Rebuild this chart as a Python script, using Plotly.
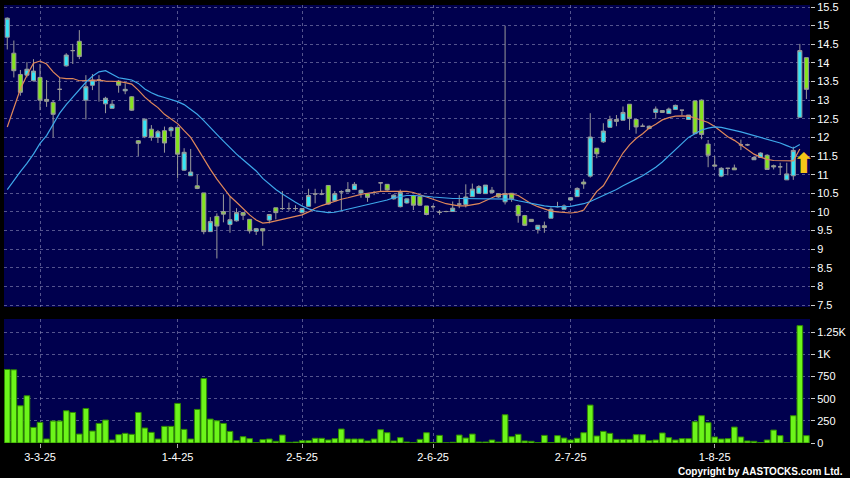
import pandas as pd
import plotly.graph_objects as go

# ---------------- data ----------------
holidays = ["2025-04-04", "2025-04-18", "2025-04-21", "2025-05-01", "2025-05-05", "2025-07-01"]
dates = [d.strftime("%Y-%m-%d") for d in pd.bdate_range("2025-02-24", "2025-08-21")
         if d.strftime("%Y-%m-%d") not in holidays]

opens = [14.69, 14.26, 13.69, 13.67, 13.52, 13.61, 13.02, 12.94, 13.29, 13.92,
         14.33, 14.58, 13.00, 13.40, 13.54, 12.90, 12.78, 13.51, 13.25, 13.09,
         11.91, 12.02, 12.22, 12.00, 12.18, 12.18, 12.27, 11.12, 10.97, 10.70,
         10.51, 9.47, 9.88, 10.01, 9.66, 9.76, 9.98, 9.80, 9.48, 9.55,
         9.78, 10.11, 10.09, 10.09, 10.09, 9.98, 10.15, 10.48, 10.48, 10.71,
         10.30, 10.54, 10.54, 10.60, 10.51, 10.49, 10.52, 10.78, 10.74, 10.35,
         10.14, 10.24, 10.44, 10.41, 10.16, 10.14, 9.99, 10.01, 10.01, 10.21,
         10.20, 10.41, 10.50, 10.49, 10.52, 10.49, 10.27, 10.50, 10.17, 9.90,
         9.80, 9.53, 9.63, 9.83, 10.14, 10.07, 10.32, 10.41, 10.80, 10.96,
         11.71, 11.88, 12.27, 12.48, 12.46, 12.89, 12.48, 12.30, 12.24, 12.67,
         12.72, 12.64, 12.75, 12.73, 12.48, 12.98, 13.00, 11.82, 11.26, 10.96,
         11.17, 11.18, 11.80, 11.80, 11.40, 11.46, 11.52, 11.24, 11.21, 10.86,
         10.97, 12.54, 14.14]
highs = [15.22, 14.60, 13.81, 14.02, 14.10, 13.97, 13.54, 13.00, 13.61, 14.26,
         14.51, 14.88, 13.67, 13.70, 13.67, 13.09, 13.00, 13.54, 13.45, 13.11,
         11.93, 12.49, 12.33, 12.20, 12.29, 12.29, 12.27, 11.71, 11.69, 10.99,
         10.51, 9.86, 9.96, 10.47, 10.41, 10.10, 10.00, 9.80, 9.57, 9.56,
         9.93, 10.11, 10.56, 10.25, 10.18, 10.09, 10.62, 10.62, 10.60, 10.71,
         10.56, 10.58, 10.80, 10.80, 10.60, 10.50, 10.56, 10.78, 10.74, 10.47,
         10.60, 10.36, 10.46, 10.41, 10.16, 10.18, 10.05, 10.03, 10.28, 10.45,
         10.74, 10.76, 10.72, 10.72, 10.67, 10.50, 15.00, 10.50, 10.20, 9.92,
         9.80, 9.64, 9.74, 10.12, 10.27, 10.20, 10.40, 10.66, 10.88, 12.65,
         11.71, 12.38, 12.58, 12.60, 12.83, 12.89, 12.48, 12.37, 12.32, 12.83,
         12.72, 12.80, 12.88, 12.73, 12.60, 12.98, 13.02, 11.93, 11.50, 11.20,
         11.17, 11.27, 11.94, 11.83, 11.50, 11.60, 11.55, 11.27, 11.32, 11.32,
         11.75, 14.51, 14.14]
lows = [14.36, 13.61, 13.12, 13.61, 13.50, 12.73, 12.82, 12.00, 13.00, 13.90,
        13.97, 14.10, 12.48, 13.27, 12.96, 12.65, 12.78, 13.20, 13.16, 12.71,
        11.50, 11.98, 11.91, 11.85, 11.59, 12.02, 10.90, 11.10, 10.97, 10.61,
        9.40, 9.47, 8.75, 9.72, 9.44, 9.74, 9.78, 9.42, 9.38, 9.09,
        9.69, 9.80, 10.05, 10.03, 10.03, 9.96, 10.15, 10.23, 10.45, 10.19,
        10.29, 10.03, 10.54, 10.60, 10.38, 10.27, 10.45, 10.54, 10.57, 10.33,
        10.12, 10.22, 10.05, 10.16, 9.91, 10.07, 9.92, 9.99, 10.01, 10.10,
        10.12, 10.41, 10.50, 10.49, 10.52, 10.38, 10.20, 10.27, 9.71, 9.62,
        9.74, 9.42, 9.44, 9.83, 10.12, 10.07, 10.30, 10.41, 10.62, 10.92,
        11.44, 11.85, 12.27, 12.30, 12.46, 12.20, 12.10, 12.28, 12.22, 12.50,
        12.66, 12.64, 12.75, 12.60, 12.48, 12.10, 11.95, 11.20, 11.22, 10.93,
        10.98, 11.13, 11.66, 11.77, 11.40, 11.46, 11.14, 11.14, 10.99, 10.86,
        10.86, 12.54, 13.03]
closes = [15.20, 13.79, 13.21, 13.83, 13.78, 13.00, 12.97, 12.62, 13.29, 14.21,
          14.33, 14.17, 13.36, 13.54, 13.54, 13.05, 12.89, 13.40, 13.29, 12.73,
          11.84, 12.49, 12.00, 12.15, 11.85, 12.26, 11.55, 11.60, 11.07, 10.63,
          9.47, 9.74, 9.62, 9.94, 9.79, 9.98, 9.91, 9.49, 9.55, 9.49,
          9.93, 9.98, 10.09, 10.09, 10.09, 10.09, 10.44, 10.48, 10.48, 10.21,
          10.49, 10.54, 10.60, 10.74, 10.58, 10.39, 10.52, 10.78, 10.59, 10.45,
          10.52, 10.35, 10.18, 10.18, 9.93, 10.14, 9.99, 10.01, 10.10, 10.21,
          10.40, 10.61, 10.68, 10.72, 10.58, 10.40, 10.49, 10.35, 9.90, 9.64,
          9.74, 9.64, 9.58, 10.07, 10.14, 10.16, 10.38, 10.63, 10.75, 12.01,
          11.56, 12.17, 12.48, 12.43, 12.67, 12.51, 12.28, 12.30, 12.30, 12.76,
          12.67, 12.76, 12.86, 12.73, 12.60, 12.10, 12.08, 11.52, 11.23, 11.17,
          11.17, 11.13, 11.80, 11.80, 11.46, 11.58, 11.14, 11.21, 11.21, 11.02,
          11.65, 14.33, 13.29]
volumes = [830, 826, 420, 533, 176, 233, 45, 248, 248, 364,
           345, 101, 390, 135, 221, 259, 34, 94, 109, 98,
           345, 169, 120, 45, 188, 188, 447, 154, 45, 379,
           728, 270, 251, 221, 131, 26, 71, 49, 3, 38,
           45, 19, 90, 8, 11, 26, 26, 53, 53, 34,
           49, 158, 45, 45, 45, 23, 45, 150, 116, 23,
           60, 11, 3, 41, 116, 5, 86, 2, 8, 90,
           56, 101, 11, 11, 34, 11, 319, 71, 98, 23,
           19, 4, 86, 4, 83, 56, 34, 53, 116, 428,
           79, 131, 109, 41, 41, 41, 94, 94, 26, 34,
           113, 60, 34, 49, 49, 240, 308, 229, 68, 45,
           49, 180, 68, 23, 19, 4, 34, 146, 83, 4,
           308, 1325, 83]
ma_short = [12.28, 12.80, 13.30, 13.67, 13.99, 14.05, 13.97, 13.76, 13.60, 13.58,
            13.58, 13.52, 13.52, 13.54, 13.54, 13.51, 13.51, 13.50, 13.47, 13.43,
            13.27, 13.08, 12.93, 12.80, 12.62, 12.50, 12.37, 12.18, 12.00, 11.72,
            11.42, 11.14, 10.88, 10.66, 10.42, 10.26, 10.08, 9.92, 9.78, 9.70,
            9.72, 9.76, 9.79, 9.82, 9.86, 9.92, 10.00, 10.10, 10.17, 10.23,
            10.30, 10.34, 10.38, 10.43, 10.47, 10.50, 10.53, 10.55, 10.55, 10.55,
            10.56, 10.55, 10.52, 10.46, 10.39, 10.32, 10.27, 10.22, 10.19, 10.16,
            10.16, 10.18, 10.22, 10.30, 10.38, 10.46, 10.48, 10.48, 10.44, 10.33,
            10.22, 10.14, 10.07, 10.02, 10.00, 9.98, 9.97, 9.99, 10.05, 10.30,
            10.55, 10.70, 11.00, 11.30, 11.58, 11.80, 11.97, 12.10, 12.25, 12.35,
            12.47, 12.53, 12.57, 12.58, 12.57, 12.52, 12.46, 12.40, 12.29, 12.15,
            12.02, 11.92, 11.80, 11.66, 11.55, 11.47, 11.41, 11.38, 11.37, 11.36,
            11.37, 11.69, None]
ma_long = [10.60, 10.85, 11.08, 11.30, 11.55, 11.84, 12.05, 12.35, 12.65, 12.88,
           13.08, 13.28, 13.48, 13.64, 13.76, 13.79, 13.69, 13.60, 13.57, 13.54,
           13.45, 13.30, 13.20, 13.12, 13.07, 13.02, 12.96, 12.88, 12.76, 12.62,
           12.45, 12.25, 12.08, 11.90, 11.72, 11.55, 11.40, 11.25, 11.10, 10.90,
           10.75, 10.60, 10.48, 10.36, 10.26, 10.16, 10.08, 10.03, 10.00, 9.98,
           9.99, 10.03, 10.07, 10.11, 10.16, 10.20, 10.24, 10.27, 10.32, 10.38,
           10.42, 10.44, 10.44, 10.44, 10.42, 10.40, 10.38, 10.37, 10.36, 10.36,
           10.36, 10.36, 10.36, 10.36, 10.36, 10.36, 10.36, 10.34, 10.30, 10.26,
           10.22, 10.19, 10.16, 10.14, 10.13, 10.14, 10.15, 10.18, 10.22, 10.28,
           10.36, 10.44, 10.51, 10.60, 10.70, 10.78, 10.88, 10.97, 11.08, 11.20,
           11.34, 11.50, 11.66, 11.82, 12.00, 12.10, 12.20, 12.25, 12.28, 12.27,
           12.24, 12.19, 12.15, 12.10, 12.06, 12.01, 11.97, 11.92, 11.85, 11.78,
           11.71, 11.81, None]

tick_dates = ["2025-03-03", "2025-04-01", "2025-05-02", "2025-06-02", "2025-07-02", "2025-08-01"]
tick_labels = ["3-3-25", "1-4-25", "2-5-25", "2-6-25", "2-7-25", "1-8-25"]
price_ticks = [7.5 + 0.5 * k for k in range(17)]
vol_ticks = [0, 250, 500, 750, 1000, 1250]
vol_tick_labels = ["0", "250", "500", "750", "1K", "1.25K"]
signal_x = 121.5
signal_y = 11.3

# ---------------- styling ----------------
NAVY = "#00004e"
GRID = "rgba(140,140,185,0.6)"
CYAN = "#33e6f8"
GREEN = "#84e41e"
FONT = "Liberation Sans, Arial, sans-serif"

fig = go.Figure()
fig.add_trace(go.Candlestick(
    x=dates, open=opens, high=highs, low=lows, close=closes,
    increasing=dict(fillcolor=CYAN, line=dict(color="#9a9a9a", width=1)),
    decreasing=dict(fillcolor=GREEN, line=dict(color="#9a9a9a", width=1)),
    whiskerwidth=0, xaxis="x", yaxis="y", showlegend=False, hoverinfo="skip"))
fig.add_trace(go.Scatter(x=dates, y=ma_short, mode="lines",
                         line=dict(color="#e0885a", width=1.2),
                         xaxis="x", yaxis="y", showlegend=False, connectgaps=False))
fig.add_trace(go.Scatter(x=dates, y=ma_long, mode="lines",
                         line=dict(color="#3ea8ea", width=1.2),
                         xaxis="x", yaxis="y", showlegend=False, connectgaps=False))
fig.add_trace(go.Bar(x=dates, y=volumes,
                     marker=dict(color="#6cf51a", line=dict(color="#2f8a00", width=1)),
                     xaxis="x2", yaxis="y2", showlegend=False))

axis_font = dict(family=FONT, size=11, color="#ffffff")
xrange = [-0.5, len(dates) - 0.45]

fig.update_layout(
    width=850, height=478, autosize=False,
    margin=dict(l=4, r=40, t=5, b=35),
    paper_bgcolor="#000000", plot_bgcolor=NAVY,
    boxgap=0.12, bargap=0.14,
    xaxis=dict(domain=[0, 1], anchor="y", type="category", range=xrange,
               tickvals=tick_dates, showticklabels=False, ticks="",
               showgrid=True, gridcolor=GRID, griddash="3px,3px", gridwidth=1,
               showline=False, zeroline=False, automargin=False,
               rangeslider=dict(visible=False)),
    yaxis=dict(domain=[0.3105, 1], anchor="x", side="right",
               range=[7.447, 15.554], tickvals=price_ticks,
               ticktext=[("%g" % v) for v in price_ticks],
               ticks="outside", ticklen=4, tickcolor="#cccccc",
               tickfont=axis_font, showgrid=True, gridcolor=GRID,
               griddash="3px,3px", zeroline=False, showline=False, automargin=False),
    xaxis2=dict(domain=[0, 1], anchor="y2", type="category", range=xrange,
                matches="x", tickvals=tick_dates, ticktext=tick_labels,
                ticks="outside", ticklen=4, tickcolor="#aaaaaa",
                tickfont=axis_font, showgrid=True, gridcolor=GRID,
                griddash="3px,3px", showline=False, zeroline=False, automargin=False),
    yaxis2=dict(domain=[0, 0.2831], anchor="x2", side="right",
                range=[0, 1400], tickvals=vol_ticks, ticktext=vol_tick_labels,
                ticks="outside", ticklen=4, tickcolor="#cccccc",
                tickfont=axis_font, showgrid=True, gridcolor=GRID,
                griddash="3px,3px", zeroline=False, showline=False, automargin=False),
    annotations=[
        dict(x=signal_x, y=signal_y, xref="x", yref="y", text="\u2b06",
             showarrow=False, font=dict(family="DejaVu Sans", size=28, color="#f5c518")),
        dict(x=(845 - 4) / 806, y=(443 - 471) / 438, xref="paper", yref="paper",
             xanchor="right", yanchor="middle", showarrow=False,
             text="<b>Copyright by AASTOCKS.com Ltd.</b>",
             font=dict(family=FONT, size=10, color="#ffffff")),
    ],
)

fig.write_html("out.html",
               config={"displayModeBar": False},
               post_script="document.body.style.margin='0';document.body.style.padding='0';")
